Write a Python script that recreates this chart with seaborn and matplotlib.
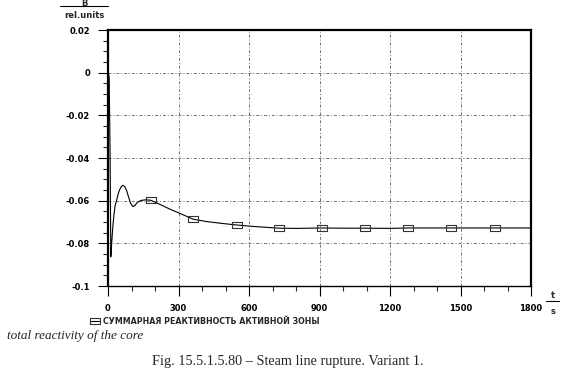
"""Total core reactivity during steam line rupture, variant 1."""

import pandas as pd
import matplotlib
matplotlib.use("Agg")
import matplotlib.pyplot as plt
import seaborn as sns
from matplotlib.ticker import MultipleLocator, FixedLocator

# time, s
time_s = [0, 5, 9, 12, 15, 20, 25, 30, 37, 44, 51, 58, 64, 72, 80, 88,
          96, 106, 115, 125, 140, 160, 182, 220, 260, 300, 363, 420, 480,
          547, 620, 728, 800, 909, 1000, 1094, 1200, 1275, 1370, 1460,
          1550, 1645, 1800]
# reactivity, rel. units
reactivity = [0.0, -0.002, -0.04, -0.0863, -0.081, -0.073, -0.067,
              -0.0625, -0.0597, -0.0565, -0.0545, -0.0532, -0.0528, -0.0535,
              -0.0555, -0.0585, -0.0612, -0.0628, -0.0622, -0.0608, -0.0599,
              -0.0596, -0.0598, -0.0617, -0.0638, -0.0657, -0.0687, -0.0698,
              -0.0706, -0.0714, -0.0721, -0.0729, -0.0730, -0.0728, -0.0729,
              -0.0729, -0.0730, -0.0728, -0.0728, -0.0728, -0.0728, -0.0728,
              -0.0728]
marker_times = [182, 363, 547, 728, 909, 1094, 1275, 1460, 1645]

series_label = "СУММАРНАЯ РЕАКТИВНОСТЬ АКТИВНОЙ ЗОНЫ"
x_ticks = [0, 300, 600, 900, 1200, 1500, 1800]
y_ticks = [0.02, 0, -0.02, -0.04, -0.06, -0.08, -0.1]
y_ticklabels = ["0.02", "0", "-0.02", "-0.04", "-0.06", "-0.08", "-0.1"]

df = pd.DataFrame({"t": time_s, "rho": reactivity})
mark_idx = [time_s.index(m) for m in marker_times]

sns.set_style("white")
plt.rcParams["font.family"] = ["DejaVu Sans"]

fig = plt.figure(figsize=(5.75, 3.77), dpi=100)
ax = fig.add_axes([108 / 575, 1 - 286 / 377, 423 / 575, 256 / 377])

rect = [(-1, -0.6), (1, -0.6), (1, 0.6), (-1, 0.6), (-1, -0.6)]
sns.lineplot(data=df, x="t", y="rho", ax=ax, color="black", linewidth=0.8,
             marker=rect, markersize=7, markerfacecolor="none",
             markeredgecolor="#333333", markeredgewidth=0.8,
             markevery=mark_idx, label=series_label, legend=False)

ax.set_xlim(0, 1800)
ax.set_ylim(-0.1, 0.02)
ax.xaxis.set_major_locator(FixedLocator(x_ticks))
ax.xaxis.set_minor_locator(MultipleLocator(100))
ax.yaxis.set_major_locator(FixedLocator(y_ticks))
ax.yaxis.set_minor_locator(MultipleLocator(0.005))
ax.set_yticklabels(y_ticklabels)
ax.set_xlabel("")
ax.set_ylabel("")

ax.grid(True, which="major", color="#7a6a80", linestyle=(0, (3, 2, 1, 2)),
        linewidth=0.7)
for side in ["left", "right", "top"]:
    ax.spines[side].set_linewidth(1.6)
    ax.spines[side].set_color("black")
ax.spines["bottom"].set_linewidth(1.0)
ax.spines["bottom"].set_color("black")

ax.tick_params(which="major", direction="out", length=7, width=0.8,
               labelsize=6, colors="black", left=True, bottom=True, pad=6)
ax.tick_params(which="minor", direction="out", length=3.5, width=0.8,
               left=True, bottom=True)
for lbl in ax.get_xticklabels() + ax.get_yticklabels():
    lbl.set_fontweight("bold")

# axis unit labels drawn as fractions
fig.text(84 / 575, 1 - 3 / 377, "B", ha="center", va="center",
         fontsize=6, fontweight="bold")
fig.add_artist(plt.Line2D([60 / 575, 108 / 575], [1 - 6 / 377, 1 - 6 / 377],
                          color="black", linewidth=0.8))
fig.text(84 / 575, 1 - 16 / 377, "rel.units", ha="center", va="center",
         fontsize=6, fontweight="bold")

fig.text(553 / 575, 1 - 296 / 377, "t", ha="center", va="center",
         fontsize=6, fontweight="bold")
fig.add_artist(plt.Line2D([546 / 575, 559 / 575], [1 - 301 / 377, 1 - 301 / 377],
                          color="black", linewidth=0.8))
fig.text(553 / 575, 1 - 312 / 377, "s", ha="center", va="center",
         fontsize=6, fontweight="bold")

handles, labels = ax.get_legend_handles_labels()
leg = fig.legend(handles, labels, loc="center left",
                 bbox_to_anchor=(84 / 575, 1 - 321 / 377), frameon=False,
                 handlelength=1.0, handletextpad=0.5, numpoints=1,
                 prop={"weight": "bold", "size": 5.7})
for lh in leg.legend_handles:
    lh.set_markevery([1])

fig.text(7 / 575, 1 - 336 / 377, "total reactivity of the core",
         ha="left", va="center", fontsize=9.5, style="italic",
         family="Liberation Serif")
fig.text(288 / 575, 1 - 362 / 377,
         "Fig. 15.5.1.5.80 – Steam line rupture. Variant 1.",
         ha="center", va="center", fontsize=10.3, family="Liberation Serif")

fig.savefig("out.png", dpi=100)
